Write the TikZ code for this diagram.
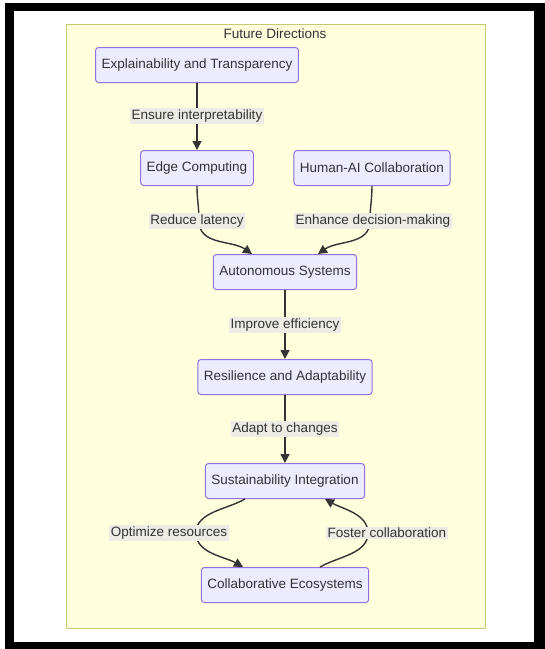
\documentclass[tikz,border=0pt]{standalone}
\usepackage{fontspec}
\setmainfont{Liberation Sans}
\usepackage{xcolor}
\usetikzlibrary{arrows.meta}

\definecolor{boxfill}{HTML}{ECECFF}
\definecolor{boxline}{HTML}{9370DB}
\definecolor{groupfill}{HTML}{FFFFDE}
\definecolor{groupline}{HTML}{C8C86E}
\definecolor{ink}{HTML}{333333}
\definecolor{lblfill}{RGB}{236,236,229}

\begin{document}
\begin{tikzpicture}[x=1pt,y=-1pt,
  font=\fontsize{13.5}{16}\selectfont,
  idea/.style={draw=boxline,fill=boxfill,line width=1pt,rounded corners=3pt,
    minimum height=35pt,inner xsep=6pt,text=ink},
  tag/.style={fill=lblfill,inner sep=1.5pt,text=ink},
  flow/.style={draw=ink,line width=1.4pt,-{Triangle[length=9pt,width=9pt]}}]
\useasboundingbox (0,0) rectangle (545,649);
\fill[black] (5,3) rectangle (545,649);
\fill[white] (14,11) rectangle (534,642);

% group
\filldraw[fill=groupfill,draw=groupline,line width=1pt] (66,24) rectangle (485,628);
\node[text=ink] (title) at (275,34) {Future Directions};

% boxes
\node[idea] (xai) at (197,65) {Explainability and Transparency};
\node[idea] (edge) at (197,168) {Edge Computing};
\node[idea] (hai) at (372,168) {Human-AI Collaboration};
\node[idea] (auto) at (285,272) {Autonomous Systems};
\node[idea] (resil) at (285,377) {Resilience and Adaptability};
\node[idea] (sust) at (285,481) {Sustainability Integration};
\node[idea] (eco) at (285,585) {Collaborative Ecosystems};

% points the curves pass
\coordinate (via1) at (197,116);
\coordinate (via2) at (199,221);
\coordinate (via3) at (370,221);
\coordinate (via4) at (285,325);
\coordinate (via5) at (285,429);
\coordinate (via6) at (196,533);
\coordinate (via7) at (368,533);

% connectors
\draw[flow] (xai) -- (edge);
\draw[flow] (edge.south) to[out=-90,in=90] (via2) to[out=-90,in=145] ([xshift=-33pt]auto.north);
\draw[flow] (hai.south) to[out=-90,in=90] (via3) to[out=-90,in=35] ([xshift=33pt]auto.north);
\draw[flow] (auto) -- (resil);
\draw[flow] (resil) -- (sust);
\draw[flow] ([xshift=-40pt]sust.south) to[out=-150,in=90,looseness=0.9] (via6) to[out=-90,in=150,looseness=0.9] ([xshift=-42pt]eco.north);
\draw[flow] ([xshift=35pt]eco.north) to[out=30,in=-90,looseness=0.9] (via7) to[out=90,in=-30,looseness=0.9] ([xshift=40pt]sust.south);

% labels
\node[tag] (l1) at (via1) {Ensure interpretability};
\node[tag] (l2) at (197,221) {Reduce latency};
\node[tag] (l3) at (373,221) {Enhance decision-making};
\node[tag] (l4) at (via4) {Improve efficiency};
\node[tag] (l5) at (via5) {Adapt to changes};
\node[tag] (l6) at (169,533) {Optimize resources};
\node[tag] (l7) at (387,533) {Foster collaboration};
\end{tikzpicture}
\end{document}
